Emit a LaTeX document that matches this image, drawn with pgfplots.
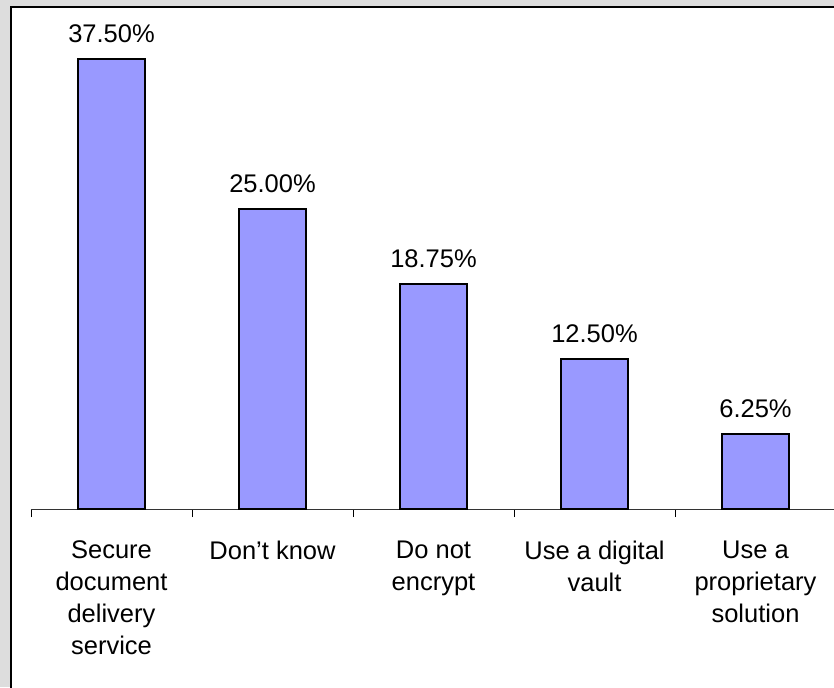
\documentclass[border=0pt]{standalone}
\usepackage{pgfplots}
\pgfplotsset{compat=1.18}
\usepackage{fontspec}
\setmainfont{Liberation Sans}
\definecolor{bgray}{HTML}{DDDDDD}
\definecolor{barblue}{HTML}{9999FF}
\begin{document}
\begin{tikzpicture}[x=1pt,y=1pt]
\path[use as bounding box] (0,0) rectangle (834,687);
\clip (0,0) rectangle (834,687);
\fill[bgray] (0,0) rectangle (834,687);
\draw[fill=white, line width=1.5pt] (11,680) rectangle (850,-20);
\begin{axis}[
  at={(31pt,178pt)}, anchor=south west,
  scale only axis, width=805pt, height=480pt,
  xmin=-0.5, xmax=4.5, ymin=0, ymax=40,
  axis y line=none,
  axis x line*=bottom,
  x axis line style={line width=0.8pt, black!80},
  xtick={0,1,2,3,4},
  xticklabels={{Secure\\document\\delivery\\service},{Don’t know},{Do not\\encrypt},{Use a digital\\vault},{Use a\\proprietary\\solution}},
  major tick length=0pt,
  minor xtick={-0.5,0.5,1.5,2.5,3.5,4.5},
  minor tick length=8pt,
  tick align=outside,
  minor tick style={line width=0.8pt, black},
  xticklabel style={font=\fontsize{25.5}{32}\selectfont, align=center, anchor=north, yshift=-28pt},
  /pgf/number format/assume math mode=true,
  ybar, bar width=67pt,
  nodes near coords={\pgfmathprintnumber[fixed, fixed zerofill, precision=2, assume math mode=true]{\pgfplotspointmeta}\%},
  nodes near coords style={font=\fontsize{25.5}{30}\selectfont, anchor=south, yshift=12.5pt},
  clip=false,
]
\addplot[fill=barblue, draw=black, line width=1.5pt] coordinates {(0,37.5) (1,25) (2,18.75) (3,12.5) (4,6.25)};
\end{axis}
\end{tikzpicture}
\end{document}
